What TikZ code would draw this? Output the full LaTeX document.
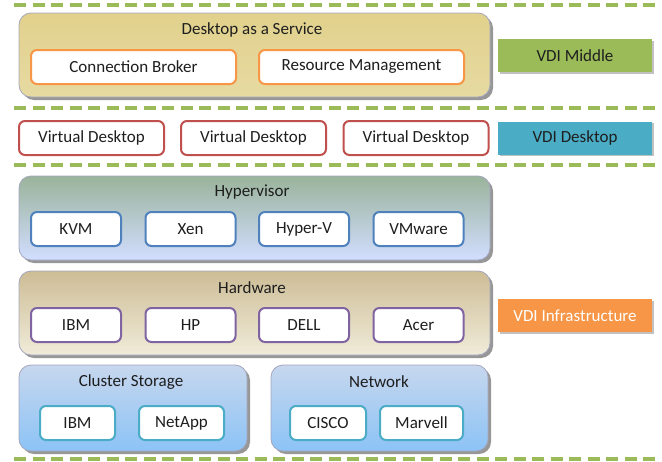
\documentclass[tikz,border=0pt]{standalone}
\usepackage{fontspec}
\setmainfont{Carlito}
\usepackage{xcolor}
\usepackage{tikz}
\usetikzlibrary{shapes,positioning,calc,shadows,backgrounds}

\definecolor{sepgreen}{HTML}{9BBB59}
\definecolor{layerline}{HTML}{A3A6BE}
\definecolor{txt}{HTML}{1E1E1E}
\definecolor{daastop}{HTML}{E1D18C}
\definecolor{daasbot}{HTML}{E7DAA2}
\definecolor{hvtop}{HTML}{9AB39B}
\definecolor{hvbot}{HTML}{D2DEFF}
\definecolor{hwtop}{HTML}{CDBD96}
\definecolor{hwbot}{HTML}{F0EBD9}
\definecolor{sttop}{HTML}{C7D7EE}
\definecolor{stbot}{HTML}{8CC3F6}
\definecolor{orangeline}{HTML}{F79646}
\definecolor{redline}{HTML}{C0504D}
\definecolor{blueline}{HTML}{4F81BD}
\definecolor{purpleline}{HTML}{8064A2}
\definecolor{tealline}{HTML}{4BACC6}
\definecolor{middlefill}{HTML}{9BBB59}
\definecolor{desktopfill}{HTML}{4BACC6}
\definecolor{infrafill}{HTML}{F79646}

\begin{document}
\begin{tikzpicture}[
    x=1pt, y=-1pt,
    font=\fontsize{17}{20}\selectfont, text=txt,
    % layer boxes and their items
    layer/.style={rectangle, rounded corners=12pt, draw=layerline, line width=0.8pt,
        minimum height=84pt, inner sep=0pt,
        drop shadow={shadow xshift=3pt, shadow yshift=-3pt, fill=black!45, opacity=0.9}},
    item/.style={rectangle, rounded corners=6pt, draw, line width=2pt, fill=white,
        minimum height=34pt, inner sep=0pt},
    tag/.style={rectangle, minimum width=154pt, minimum height=33pt, inner sep=0pt,
        drop shadow={shadow xshift=1.5pt, shadow yshift=-1.5pt, fill=black!30, opacity=0.8}},
    sep/.style={draw=sepgreen, line width=3.4pt, dash pattern=on 12pt off 6.5pt}
]
    \useasboundingbox (0,0) rectangle (662,461);

    % --- Separators ---
    \foreach \yy in {5,108,165,459}
        \draw[sep] (14,\yy) -- (660,\yy);

    % --- VDI Middle ---
    \node[layer, minimum width=471pt, top color=daastop, bottom color=daasbot] (daas) at (254.5,55) {};
    \node (daastitle) at (252,30) {Desktop as a Service};
    \node[item, draw=orangeline, minimum width=205pt] (broker) at (133.5,67) {Connection Broker};
    \node[item, draw=orangeline, minimum width=205pt] (resmgmt) at (361.5,67) {Resource Management};
    \node[tag, fill=middlefill] (vdimiddle) at (575,55.5) {VDI Middle};

    % --- VDI Desktop ---
    \node[item, draw=redline, minimum width=145pt] (vd1) at (91.5,138) {Virtual Desktop};
    \node[item, draw=redline, minimum width=145pt] (vd2) at (253.5,138) {Virtual Desktop};
    \node[item, draw=redline, minimum width=145pt] (vd3) at (416,138) {Virtual Desktop};
    \node[tag, fill=desktopfill] (vdidesktop) at (575,138) {VDI Desktop};

    % --- Hypervisor ---
    \node[layer, minimum width=471pt, top color=hvtop, bottom color=hvbot] (hyper) at (254.5,218) {};
    \node (hypertitle) at (252,192) {Hypervisor};
    \node[item, draw=blueline, minimum width=90pt] (kvm) at (76,229) {KVM};
    \node[item, draw=blueline, minimum width=90pt] (xen) at (190.5,229) {Xen};
    \node[item, draw=blueline, minimum width=90pt] (hyperv) at (304,229) {Hyper-V};
    \node[item, draw=blueline, minimum width=90pt] (vmware) at (418.5,229) {VMware};

    % --- Hardware ---
    \node[layer, minimum width=471pt, top color=hwtop, bottom color=hwbot] (hw) at (254.5,313) {};
    \node (hwtitle) at (252,288) {Hardware};
    \node[item, draw=purpleline, minimum width=90pt] (ibm) at (76,325) {IBM};
    \node[item, draw=purpleline, minimum width=90pt] (hp) at (190.5,325) {HP};
    \node[item, draw=purpleline, minimum width=90pt] (dell) at (304,325) {DELL};
    \node[item, draw=purpleline, minimum width=90pt] (acer) at (418.5,325) {Acer};
    \node[tag, fill=infrafill, text=white] (vdiinfra) at (575,315.5) {VDI Infrastructure};

    % --- Storage and network ---
    \node[layer, minimum width=228pt, minimum height=86pt, top color=sttop, bottom color=stbot] (storage) at (133,408) {};
    \node (storagetitle) at (131,382) {Cluster Storage};
    \node[item, draw=tealline, minimum width=75pt] (stibm) at (77.5,423) {IBM};
    \node[item, draw=tealline, minimum width=85pt] (netapp) at (181.5,423) {NetApp};
    \node[layer, minimum width=217pt, minimum height=86pt, top color=sttop, bottom color=stbot] (network) at (379.5,408) {};
    \node (networktitle) at (379,382) {Network};
    \node[item, draw=tealline, minimum width=76pt] (cisco) at (328,423) {CISCO};
    \node[item, draw=tealline, minimum width=83pt] (marvell) at (421.5,423) {Marvell};
\end{tikzpicture}
\end{document}
